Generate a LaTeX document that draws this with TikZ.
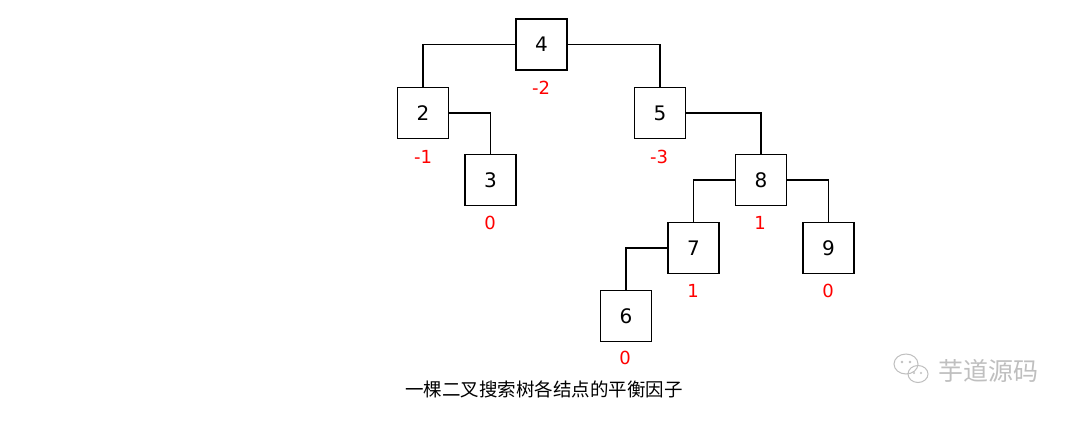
\documentclass[tikz,border=0pt]{standalone}
\usepackage{fontspec}
\setmainfont{DejaVu Sans}
\newfontfamily\cjk{Noto Sans CJK SC}
\begin{document}
\begin{tikzpicture}[x=1pt,y=-1pt,
  tnode/.style={draw=black,line width=1.5pt,minimum size=51pt,inner sep=0pt,font=\fontsize{20}{20}\selectfont},
  bal/.style={text=red,font=\fontsize{18}{18}\selectfont,inner sep=0pt},
  edge/.style={draw=black,line width=1.5pt}]
\useasboundingbox (0,0) rectangle (1080,421);
\fill[white] (0,0) rectangle (1080,421);
% nodes
\node[tnode] (n4) at (541.5,44.5) {4};
\node[tnode] (n2) at (423,113) {2};
\node[tnode] (n3) at (490.5,180) {3};
\node[tnode] (n5) at (660,113) {5};
\node[tnode] (n8) at (761,180) {8};
\node[tnode] (n7) at (693.5,248) {7};
\node[tnode] (n9) at (828.5,248) {9};
\node[tnode] (n6) at (626,316) {6};
% balance factors
\node[bal] (b4) at (541,88) {-2};
\node[bal] (b2) at (423,157) {-1};
\node[bal] (b3) at (490,223) {0};
\node[bal] (b5) at (659,157) {-3};
\node[bal] (b8) at (760,223) {1};
\node[bal] (b7) at (693,291) {1};
\node[bal] (b9) at (828,291) {0};
\node[bal] (b6) at (625,358) {0};
% edges
\draw[edge] (n4.west) -| (n2.north);
\draw[edge] (n4.east) -| (n5.north);
\draw[edge] (n2.east) -| (n3.north);
\draw[edge] (n5.east) -| (n8.north);
\draw[edge] (n8.west) -| (n7.north);
\draw[edge] (n8.east) -| (n9.north);
\draw[edge] (n7.west) -| (n6.north);
% caption
\node[font=\cjk\fontsize{18.5}{18.5}\selectfont,inner sep=0pt] (cap) at (544,389) {一棵二叉搜索树各结点的平衡因子};
% watermark
\begin{scope}[draw=black!25,line width=1pt]
\draw (906,364) ellipse [x radius=12pt,y radius=10pt];
\draw (918,374) ellipse [x radius=10pt,y radius=8.5pt];
\fill[black!25] (902,362) circle (1.3pt) (910,362) circle (1.3pt);
\fill[black!25] (914,373) circle (1.1pt) (921,373) circle (1.1pt);
\end{scope}
\node[font=\cjk\fontsize{25}{25}\selectfont,text=black!25,inner sep=0pt] (wm) at (988,371) {芋道源码};
\end{tikzpicture}
\end{document}
